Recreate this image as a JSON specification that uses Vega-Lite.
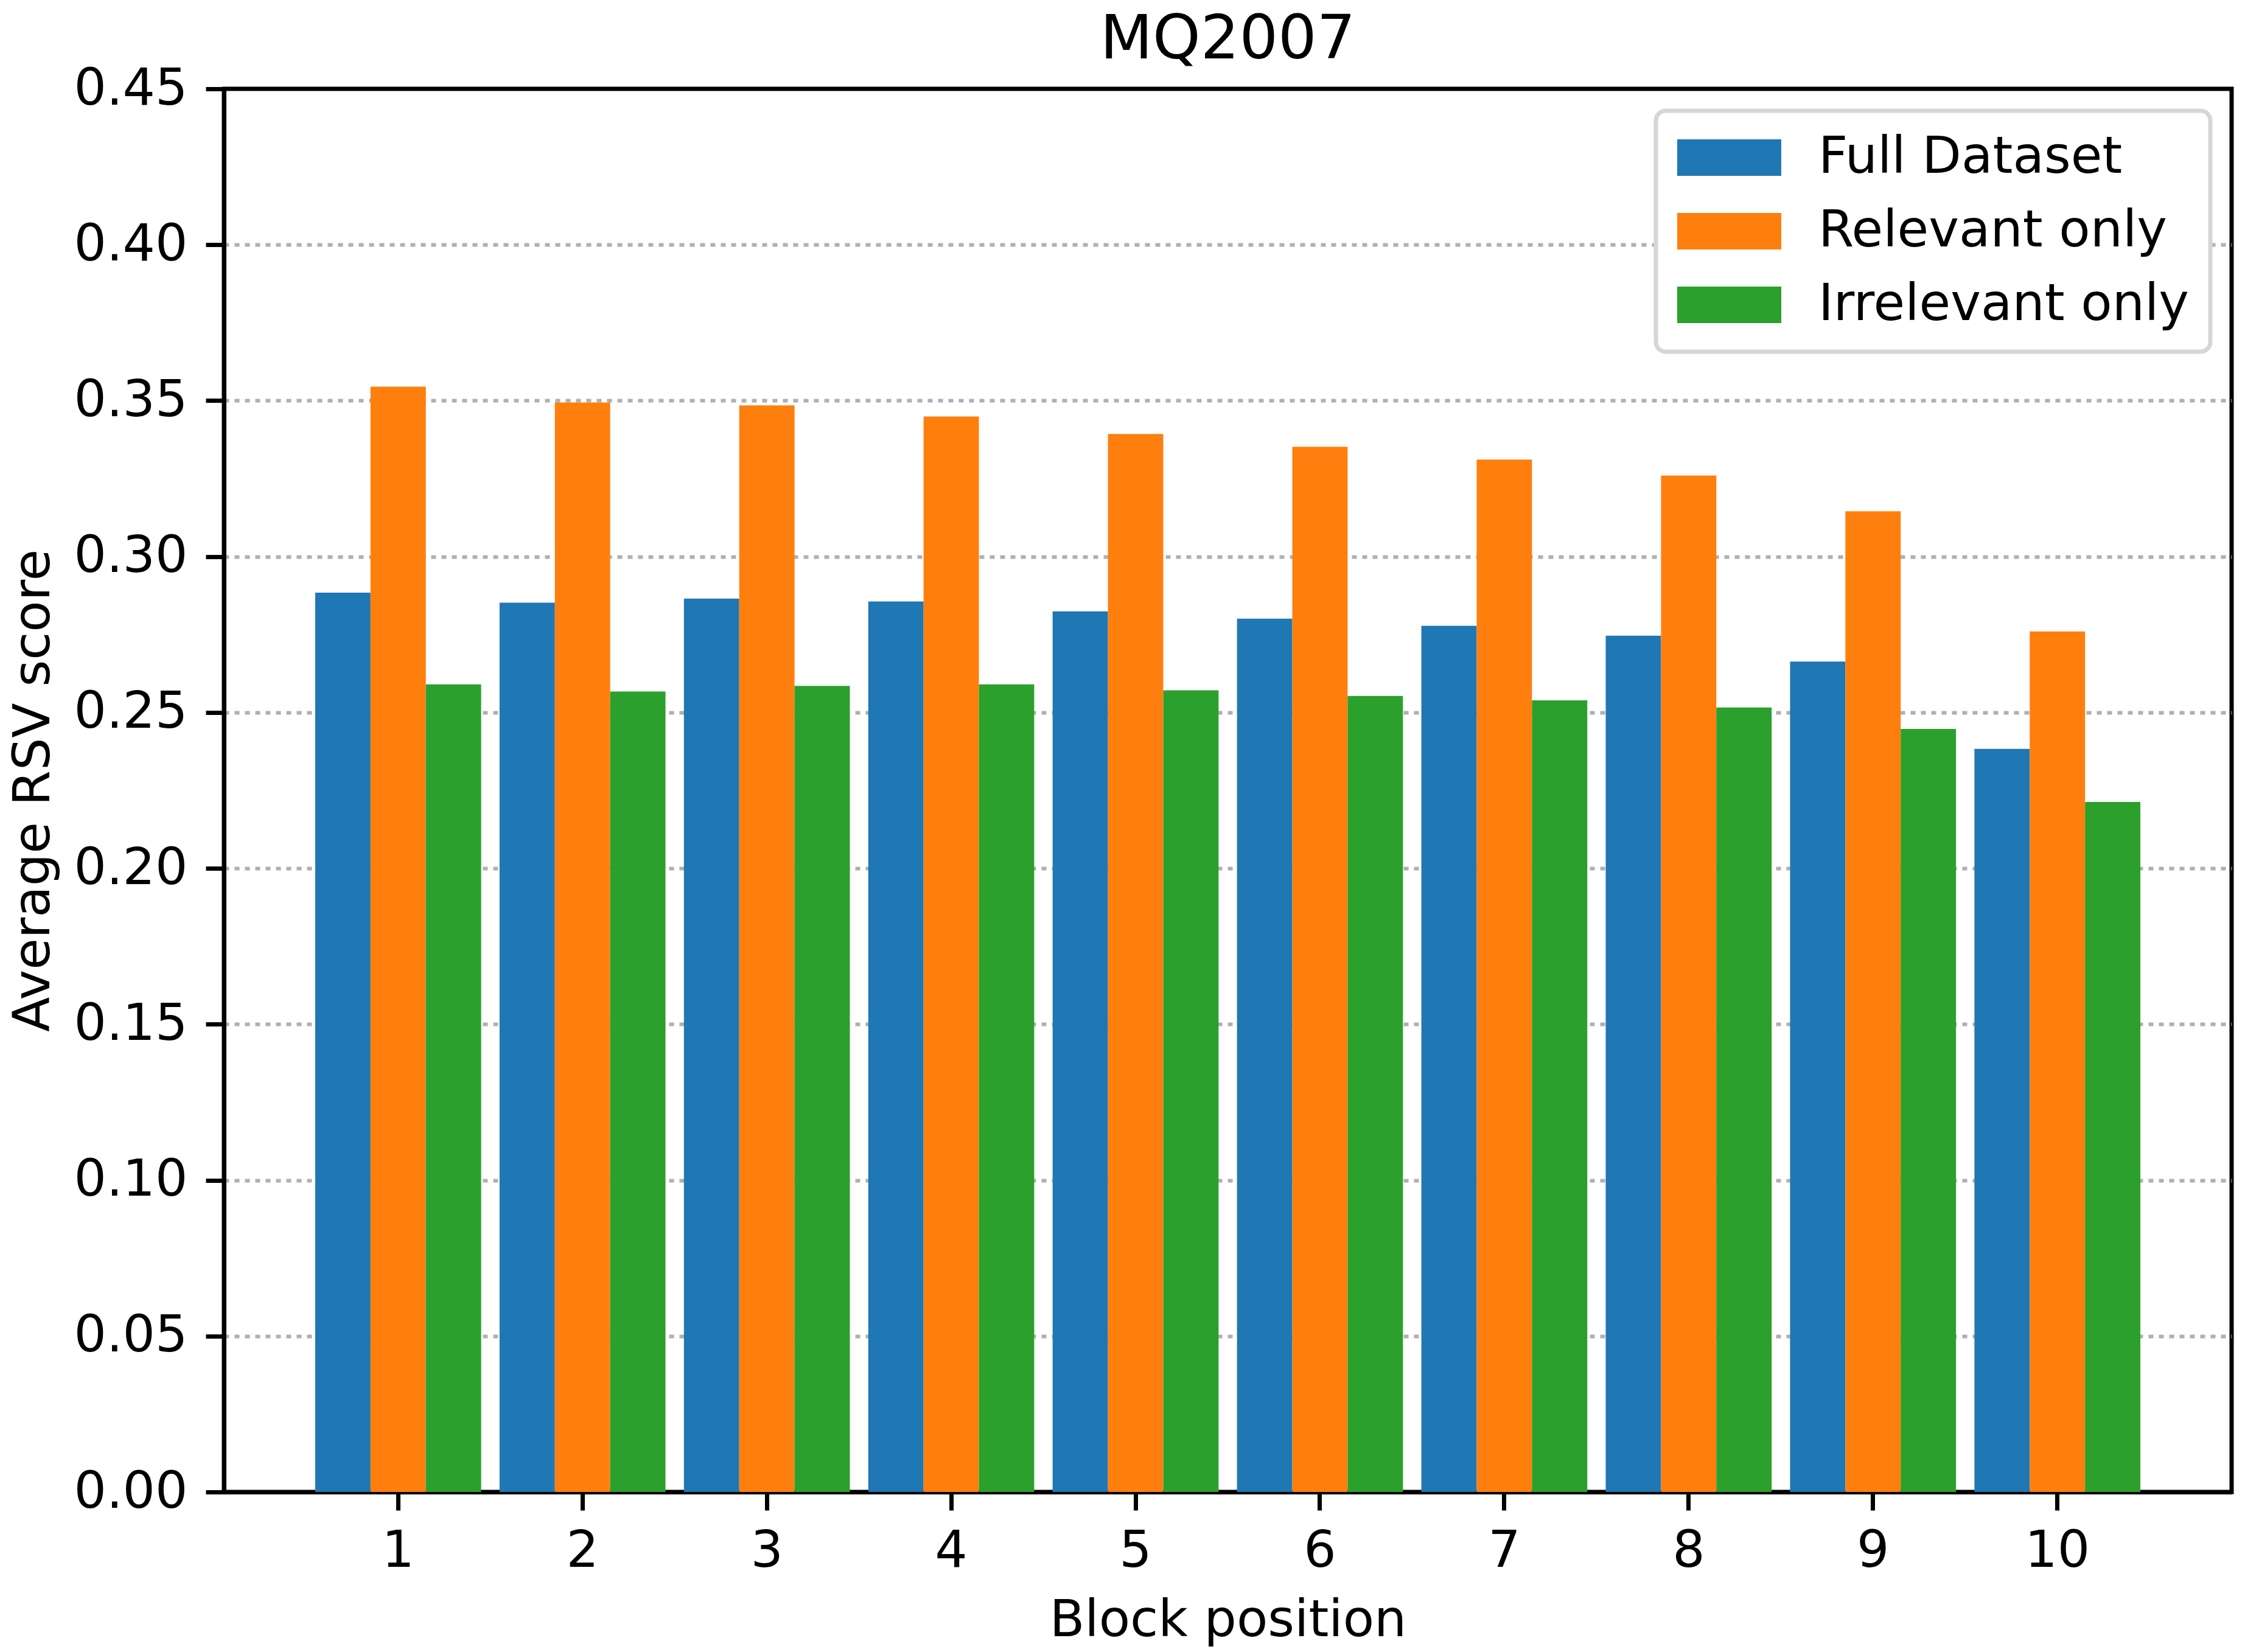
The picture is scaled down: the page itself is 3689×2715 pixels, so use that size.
{
  "$schema": "https://vega.github.io/schema/vega-lite/v6.json",
  "autosize": "none",
  "padding": {"left": 368, "top": 146, "right": 22, "bottom": 263},
  "width": 3299,
  "height": 2306,
  "background": "white",
  "config": {
    "font": "DejaVu Sans",
    "view": {"stroke": "black", "strokeWidth": 7},
    "title": {"fontSize": 100, "fontWeight": "normal", "color": "black", "baseline": "alphabetic", "offset": -13},
    "axis": {
      "domainColor": "black", "domainWidth": 7,
      "tickColor": "black", "tickWidth": 7, "tickSize": 30,
      "labelFont": "DejaVu Sans", "labelFontSize": 84, "labelColor": "black", "labelLimit": 1000,
      "titleFont": "DejaVu Sans", "titleFontSize": 84, "titleFontWeight": "normal", "titleColor": "black"
    },
    "legend": {
      "fillColor": "white", "strokeColor": "#d6d6d6", "strokeWidth": 7, "cornerRadius": 16, "padding": 35
    }
  },
  "title": "MQ2007",
  "data": {
    "values": [
      {"block": 1, "series": "Full Dataset", "score": 0.2884},
      {"block": 1, "series": "Relevant only", "score": 0.3545},
      {"block": 1, "series": "Irrelevant only", "score": 0.2590},
      {"block": 2, "series": "Full Dataset", "score": 0.2852},
      {"block": 2, "series": "Relevant only", "score": 0.3494},
      {"block": 2, "series": "Irrelevant only", "score": 0.2567},
      {"block": 3, "series": "Full Dataset", "score": 0.2865},
      {"block": 3, "series": "Relevant only", "score": 0.3485},
      {"block": 3, "series": "Irrelevant only", "score": 0.2585},
      {"block": 4, "series": "Full Dataset", "score": 0.2856},
      {"block": 4, "series": "Relevant only", "score": 0.3449},
      {"block": 4, "series": "Irrelevant only", "score": 0.2590},
      {"block": 5, "series": "Full Dataset", "score": 0.2824},
      {"block": 5, "series": "Relevant only", "score": 0.3393},
      {"block": 5, "series": "Irrelevant only", "score": 0.2571},
      {"block": 6, "series": "Full Dataset", "score": 0.2801},
      {"block": 6, "series": "Relevant only", "score": 0.3352},
      {"block": 6, "series": "Irrelevant only", "score": 0.2553},
      {"block": 7, "series": "Full Dataset", "score": 0.2778},
      {"block": 7, "series": "Relevant only", "score": 0.3311},
      {"block": 7, "series": "Irrelevant only", "score": 0.2539},
      {"block": 8, "series": "Full Dataset", "score": 0.2746},
      {"block": 8, "series": "Relevant only", "score": 0.3260},
      {"block": 8, "series": "Irrelevant only", "score": 0.2516},
      {"block": 9, "series": "Full Dataset", "score": 0.2663},
      {"block": 9, "series": "Relevant only", "score": 0.3145},
      {"block": 9, "series": "Irrelevant only", "score": 0.2447},
      {"block": 10, "series": "Full Dataset", "score": 0.2383},
      {"block": 10, "series": "Relevant only", "score": 0.2760},
      {"block": 10, "series": "Irrelevant only", "score": 0.2213}
    ]
  },
  "mark": {"type": "bar"},
  "encoding": {
    "x": {
      "field": "block", "type": "ordinal", "title": "Block position",
      "scale": {"paddingInner": 0.1, "paddingOuter": 0.495},
      "axis": {"labelAngle": 0, "labelPadding": 26, "titleY": 236, "titleBaseline": "alphabetic"}
    },
    "xOffset": {
      "field": "series", "type": "nominal",
      "scale": {"domain": ["Full Dataset", "Relevant only", "Irrelevant only"], "paddingInner": 0, "paddingOuter": 0}
    },
    "y": {
      "field": "score", "type": "quantitative", "title": "Average RSV score",
      "scale": {"domain": [0, 0.45], "nice": false},
      "axis": {
        "values": [0, 0.05, 0.1, 0.15, 0.2, 0.25, 0.3, 0.35, 0.4, 0.45],
        "format": ".2f", "labelPadding": 30,
        "grid": true, "gridWidth": 6, "gridDash": [8, 9],
        "gridColor": {"condition": {"test": "datum.value > 0.449 || datum.value < 0.001", "value": "transparent"}, "value": "#b0b0b0"},
        "titleX": -288, "titleY": 1153, "titleAngle": 270, "titleBaseline": "alphabetic", "titleAlign": "center"
      }
    },
    "color": {
      "field": "series", "type": "nominal",
      "scale": {"domain": ["Full Dataset", "Relevant only", "Irrelevant only"], "range": ["#1f77b4", "#ff7f0e", "#2ca02c"]},
      "legend": {
        "title": null, "orient": "none", "legendX": 2353, "legendY": 36,
        "symbolType": "M-1.4,-1H4.3V1H-1.4Z", "symbolSize": 3600, "symbolStrokeWidth": 0, "symbolOpacity": 1,
        "labelFontSize": 84, "labelColor": "black", "labelOffset": 148, "rowPadding": 37, "labelLimit": 1000
      }
    }
  }
}
